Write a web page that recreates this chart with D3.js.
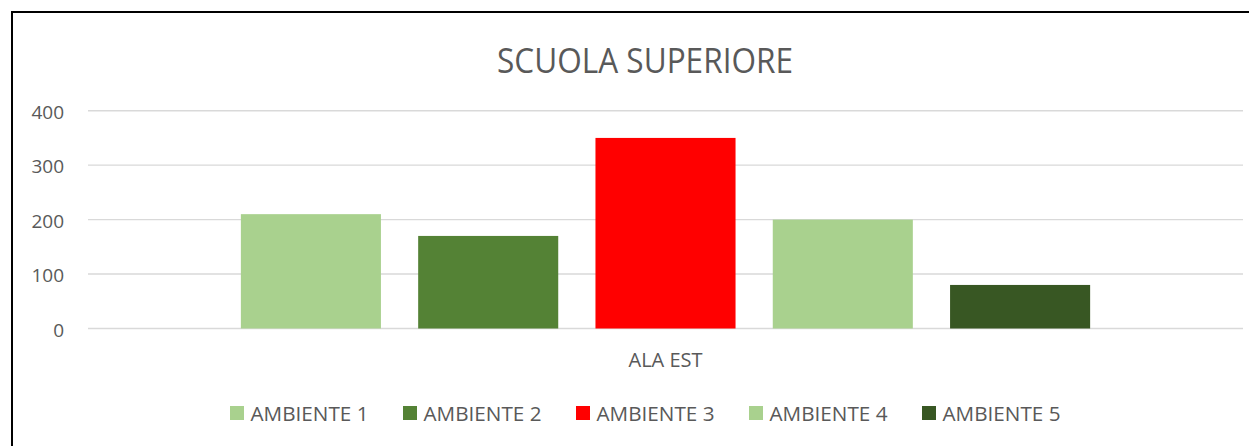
<!DOCTYPE html>
<html>
<head>
<meta charset="utf-8">
<script src="https://cdn.jsdelivr.net/npm/d3@7"></script>
<style>
  html, body { margin: 0; padding: 0; background: #fff; overflow: hidden; }
  svg { display: block; }
  text { font-family: "Open Sans", "Noto Sans", sans-serif; fill: #595959; }
</style>
</head>
<body>
<svg id="chart" width="1249" height="446"></svg>
<script>
const title = "SCUOLA SUPERIORE";
const categories = ["ALA EST"];
const seriesNames = ["AMBIENTE 1", "AMBIENTE 2", "AMBIENTE 3", "AMBIENTE 4", "AMBIENTE 5"];
const seriesValues = [210, 170, 350, 200, 80];
const seriesColors = ["#A9D18E", "#548235", "#FF0000", "#A9D18E", "#385723"];
const yTicks = [0, 100, 200, 300, 400];

const svg = d3.select("#chart");

// chart border (right/bottom edges lie outside the viewport)
svg.append("rect")
  .attr("x", 12).attr("y", 12)
  .attr("width", 1400).attr("height", 600)
  .attr("fill", "#fff").attr("stroke", "#000").attr("stroke-width", 2);

const plot = { left: 88, right: 1243, top: 110.7, bottom: 328.5 };

const y = d3.scaleLinear().domain([0, 400]).range([plot.bottom, plot.top]);
const x0 = d3.scaleBand().domain(categories).range([plot.left, plot.right]).paddingInner(0).paddingOuter(0.18);
const x1 = d3.scaleBand().domain(seriesNames).range([0, x0.bandwidth()]).paddingInner(0.21).paddingOuter(0);

// gridlines
svg.append("g").selectAll("line").data(yTicks).join("line")
  .attr("x1", plot.left).attr("x2", plot.right)
  .attr("y1", d => y(d)).attr("y2", d => y(d))
  .attr("stroke", "#D9D9D9").attr("stroke-width", 1.4);

// y axis labels
const yAxis = svg.append("g")
  .attr("transform", `translate(${plot.left},0)`)
  .call(d3.axisLeft(y).tickValues(yTicks).tickSize(0).tickPadding(24).tickFormat(d3.format("d")));
yAxis.select(".domain").remove();
yAxis.selectAll("text")
  .attr("dy", "0.4em")
  .style("font-size", "19px")
  .style("font-family", "'Open Sans', sans-serif")
  .attr("fill", "#595959");

// bars
const groups = svg.append("g").selectAll("g").data(categories).join("g")
  .attr("transform", d => `translate(${x0(d)},0)`);
groups.selectAll("rect")
  .data(() => seriesNames.map((s, i) => ({ s, v: seriesValues[i], c: seriesColors[i] })))
  .join("rect")
  .attr("x", d => x1(d.s))
  .attr("width", x1.bandwidth())
  .attr("y", d => y(d.v))
  .attr("height", d => y(0) - y(d.v))
  .attr("fill", d => d.c);

// category label
svg.append("g").selectAll("text").data(categories).join("text")
  .attr("x", d => x0(d) + x0.bandwidth() / 2)
  .attr("y", 367)
  .attr("text-anchor", "middle")
  .style("font-size", "20px")
  .attr("textLength", 74).attr("lengthAdjust", "spacingAndGlyphs")
  .text(d => d);

// title
svg.append("text")
  .attr("x", 645).attr("y", 73)
  .attr("text-anchor", "middle")
  .style("font-size", "35px")
  .attr("textLength", 296).attr("lengthAdjust", "spacingAndGlyphs")
  .text(title);

// legend
const lx = d3.scaleBand().domain(seriesNames).range([230, 230 + 173 * seriesNames.length]);
const leg = svg.append("g").selectAll("g").data(seriesNames).join("g")
  .attr("transform", d => `translate(${lx(d)},0)`);
leg.append("rect")
  .attr("x", 0).attr("y", 406).attr("width", 14).attr("height", 14)
  .attr("fill", (d, i) => seriesColors[i]);
leg.append("text")
  .attr("x", 20.5).attr("y", 421)
  .style("font-size", "20px")
  .attr("textLength", 118).attr("lengthAdjust", "spacingAndGlyphs")
  .text(d => d);
</script>
</body>
</html>
